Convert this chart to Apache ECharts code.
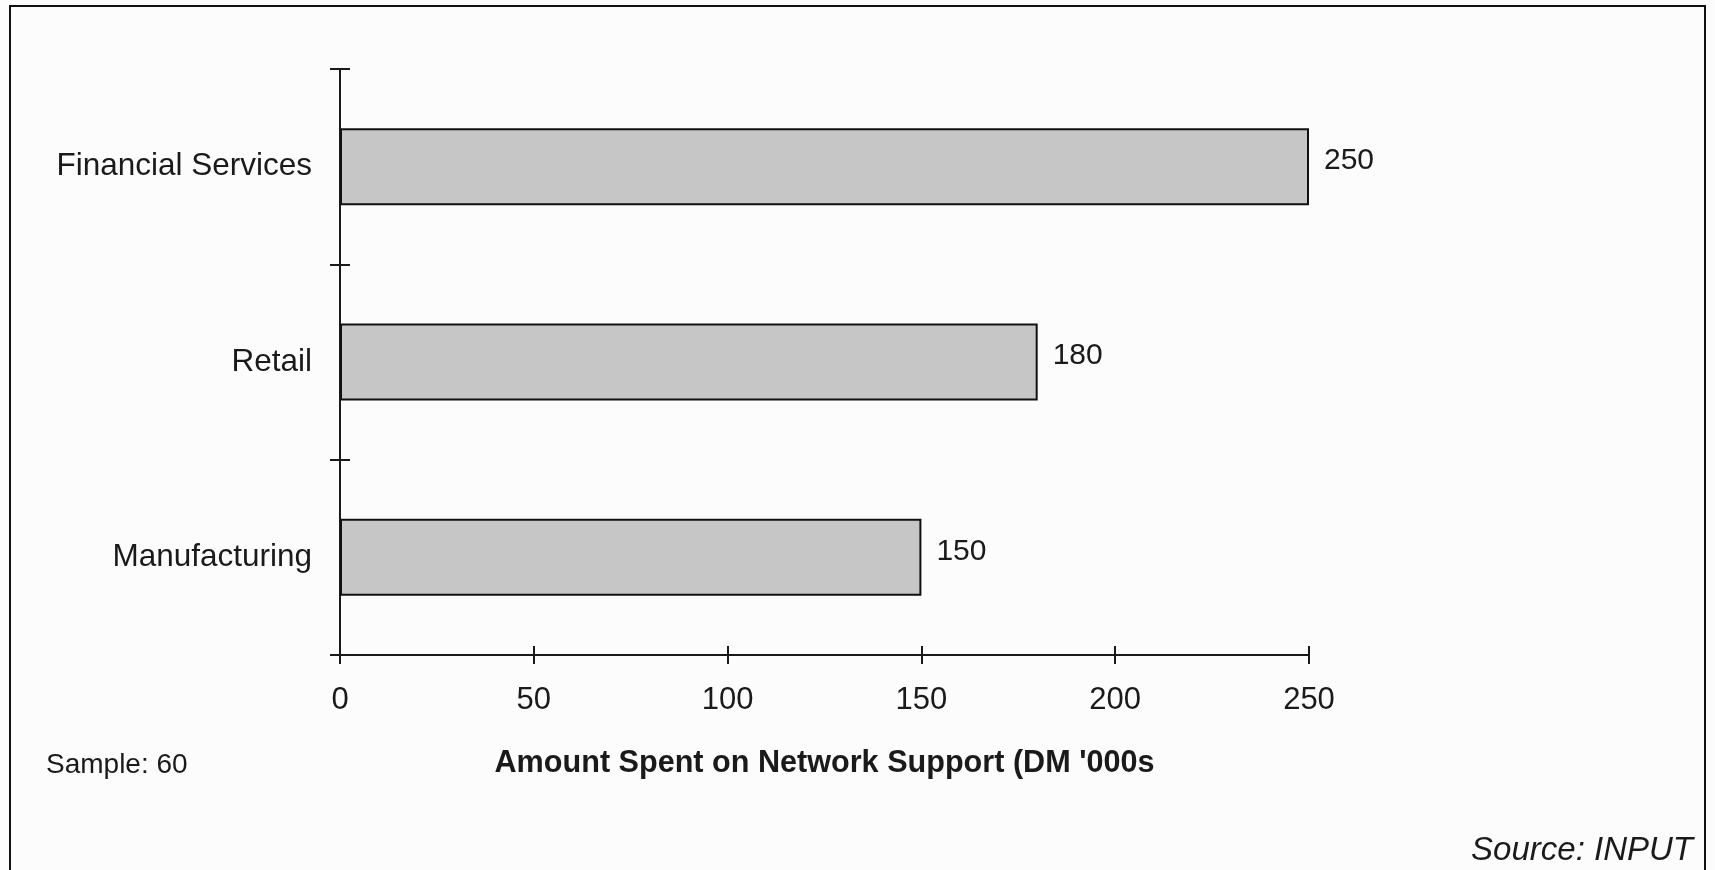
<!DOCTYPE html>
<html>
<head>
<meta charset="utf-8">
<title>Network Support Spend</title>
<script src="https://cdn.jsdelivr.net/npm/echarts@6/dist/echarts.min.js"></script>
<style>
  html, body { margin: 0; padding: 0; background: #fcfcfc; }
  #chart { width: 1715px; height: 870px; }
</style>
</head>
<body>
<div id="chart"></div>
<script>
// data
const categories = ['Financial Services', 'Retail', 'Manufacturing']
const amounts = [250, 180, 150]
const xTicks = [0, 50, 100, 150, 200, 250]

const font = '"Liberation Sans", Arial, sans-serif'
const ink = '#1a1a1a'

const chart = echarts.init(document.getElementById('chart'))

chart.setOption({
  backgroundColor: '#fcfcfc',
  animation: false,
  textStyle: { fontFamily: font, color: ink },
  grid: {
    left: 340,
    right: 406,
    top: 69,
    bottom: 215
  },
  xAxis: [{
    type: 'value',
    position: 'bottom',
    min: xTicks[0],
    max: xTicks[xTicks.length - 1],
    interval: 50,
    name: "Amount Spent on Network Support (DM '000s",
    nameLocation: 'middle',
    nameGap: 93,
    nameTextStyle: { fontSize: 30.6, fontWeight: 'bold', color: ink, fontFamily: font },
    axisLine: { show: true, lineStyle: { color: ink, width: 2 } },
    axisTick: { show: true, length: 9, lineStyle: { color: ink, width: 2 } },
    axisLabel: { fontSize: 31, color: ink, margin: 30, fontFamily: font },
    splitLine: { show: false }
  }, {
    // second copy so the ticks cross the line like the original
    type: 'value',
    position: 'bottom',
    min: xTicks[0],
    max: xTicks[xTicks.length - 1],
    interval: 50,
    axisLine: { show: false },
    axisTick: { show: true, inside: true, length: 9, lineStyle: { color: ink, width: 2 } },
    axisLabel: { show: false },
    splitLine: { show: false }
  }],
  yAxis: [{
    type: 'category',
    inverse: true,
    data: categories,
    axisLine: { show: true, lineStyle: { color: ink, width: 2 } },
    axisTick: { show: true, length: 10, lineStyle: { color: ink, width: 2 } },
    axisLabel: { fontSize: 31.5, color: ink, margin: 28, fontFamily: font }
  }, {
    type: 'category',
    inverse: true,
    position: 'left',
    data: categories,
    axisLine: { show: false },
    axisTick: { show: true, inside: true, length: 10, lineStyle: { color: ink, width: 2 } },
    axisLabel: { show: false }
  }],
  series: [{
    name: 'Amount',
    type: 'bar',
    data: amounts,
    barWidth: 77,
    itemStyle: {
      color: '#c6c6c6',
      borderColor: '#111',
      borderWidth: 2
    },
    label: {
      show: true,
      position: 'right',
      distance: 15,
      offset: [0, -6],
      fontSize: 30,
      color: ink,
      fontFamily: font
    }
  }],
  graphic: [{
    type: 'rect',
    shape: { x: 10, y: 6, width: 1695, height: 900 },
    style: { fill: null, stroke: '#111', lineWidth: 2 },
    silent: true
  }, {
    type: 'text',
    left: 46,
    top: 751,
    style: { text: 'Sample: 60', fontSize: 28, fill: ink, fontFamily: font }
  }, {
    type: 'text',
    right: 22,
    top: 834,
    style: { text: 'Source: INPUT', fontSize: 33, fontStyle: 'italic', fill: ink, fontFamily: font }
  }]
})
</script>
</body>
</html>
